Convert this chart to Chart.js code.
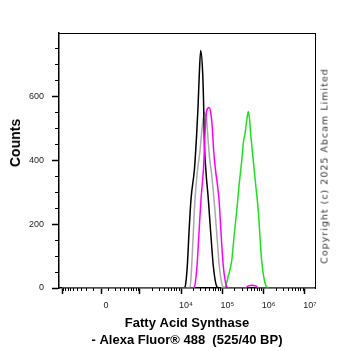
<!DOCTYPE html>
<html>
<head>
<meta charset="utf-8">
<script src="https://cdn.jsdelivr.net/npm/chart.js@4.4.1/dist/chart.umd.min.js"></script>
<style>
html,body{margin:0;padding:0;background:#fff;}
#wrap{position:relative;width:362px;height:351px;overflow:hidden;background:#fff;}
#wrap canvas{position:absolute;left:0;top:0;}
.vt{position:absolute;white-space:nowrap;transform:translate(-50%,-50%) rotate(-90deg);transform-origin:center center;line-height:1;}
#counts{left:15px;top:143px;font:bold 14px "Liberation Sans",Arial,sans-serif;color:#000;}
#copy{left:324px;top:166px;font:9.5px "DejaVu Sans",sans-serif;letter-spacing:1px;color:#333;}
</style>
</head>
<body>
<div id="wrap">
  <canvas id="c" width="362" height="351"></canvas>
  <div class="vt" id="counts">Counts</div>
  <div class="vt" id="copy">Copyright (c) 2025 Abcam Limited</div>
</div>
<script>
// ---- data (intensity on the x axis, event counts on the y axis) ----
const grayX    = [13970,16520,18150,19860,21830,25060,28840,32210,37070,41400,44990,48940,54700,62920,73070,84490,102100,116100];
const grayY    = [0,3,69,174,279,370,430,500,550,530,470,410,360,279,174,69,5,0];

const blackX   = [11170,12500,14200,15620,17460,21210,23990,25780,27730,29990,33500,35410,36640,39810,45780,52330,60510,73070,83000];
const blackY   = [0,3,69,174,279,375,485,566,672,745,672,566,462,372,279,174,69,5,0];

const magentaX = [-1000,18450,20990,24380,27270,30480,35000,36640,38730,41880,47610,52330,57150,61800,68390,83000,92890,105500,127600,144900,353700,417800,522400,653100,771400,17000000];
const magentaY = [0,0,3,69,174,279,375,430,504,556,566,551,504,430,370,279,174,69,5,0,0,6,9,6,0,0];

const greenX   = [92890,116100,140900,168600,191600,222700,253100,294300,325300,353700,384600,424600,454200,485800,522400,561500,645700,741300,814700,897500,1019000,1186000,1346000];
const greenY   = [0,3,40,85,160,242,320,399,460,483,520,554,530,483,440,399,320,242,160,85,30,3,0];

// ---- axes ----
const xMajorTicks  = [-1000, 0, 1000, 1e4, 1e5, 1e6, 1e7];
const xMajorLabels = ['', '0', '', '10\u2074', '10\u2075', '10\u2076', '10\u2077'];
const xMinorTicks = [];
for (let k = -900; k <= 900; k += 100) if (k !== 0) xMinorTicks.push(k);
for (let d = 1e3; d <= 1e6; d *= 10) for (let m = 2; m <= 9; m++) xMinorTicks.push(m * d);

const yMajorTicks = [0, 200, 400, 600];
const yMinorTicks = [50,100,150,250,300,350,450,500,550,650,700,750];

const xRange = [-1193, 17460000];
const yRange = [0, 800];

const xTitle = ['Fatty Acid Synthase', '- Alexa Fluor\u00AE 488  (525/40 BP)'];

// ---- biexponential-like scale ----
const LN10 = Math.log(10);
const W = 232;
const P0 = Math.log10(W / 2);
function biex(v) { return P0 + Math.asinh(v / W) / LN10; }
function biexInv(d) { return W * Math.sinh((d - P0) * LN10); }

const BaseLinear = Chart.LinearScale || (Chart.scales && Chart.scales.LinearScale);
class BiexScale extends BaseLinear {
  getPixelForValue(v) {
    const a = biex(this.min), b = biex(this.max);
    return this.getPixelForDecimal((biex(v) - a) / (b - a));
  }
  getValueForPixel(px) {
    const a = biex(this.min), b = biex(this.max);
    return biexInv(a + this.getDecimalForPixel(px) * (b - a));
  }
}
BiexScale.id = 'biex';
BiexScale.defaults = {};
Chart.register(BiexScale);

const pts = (xs, ys) => xs.map((x, i) => ({x: x, y: ys[i]}));
const tickFont = {family: '"Liberation Sans", Arial, sans-serif', size: 9};

new Chart(document.getElementById('c'), {
  type: 'line',
  data: {
    datasets: [
      {label: 'magenta', data: pts(magentaX, magentaY), borderColor: '#ff00ff', clip: 0},
      {label: 'green',   data: pts(greenX, greenY),     borderColor: '#1ee01e'},
      {label: 'black',   data: pts(blackX, blackY),     borderColor: '#000000'},
      {label: 'gray',    data: pts(grayX, grayY),       borderColor: '#a9a9a9'}
    ].map(d => Object.assign({
      borderWidth: 1.5, pointRadius: 0, fill: false,
      cubicInterpolationMode: 'monotone', xAxisID: 'x', yAxisID: 'y'
    }, d))
  },
  options: {
    responsive: false,
    devicePixelRatio: 1,
    animation: false,
    events: [],
    layout: {padding: {top: 33, right: 47, bottom: 0, left: 0}},
    plugins: {legend: {display: false}, tooltip: {enabled: false}},
    scales: {
      x: {
        type: 'biex', position: 'bottom', min: xRange[0], max: xRange[1], bounds: 'data', weight: 0,
        afterBuildTicks: s => { s.ticks = xMajorTicks.map(v => ({value: v})); },
        afterFit: s => { s.height = 63; },
        ticks: {autoSkip: false, maxRotation: 0, font: tickFont, color: '#222', padding: 6, labelOffset: 5,
                callback: (v, i) => xMajorLabels[i]},
        grid: {drawOnChartArea: false, tickLength: 6, tickWidth: 1.5, tickColor: '#000'},
        border: {color: '#000', width: 1.5},
        title: {display: true, text: xTitle, color: '#000',
                font: {family: '"Liberation Sans", Arial, sans-serif', size: 13, weight: 'bold', lineHeight: 1.3},
                padding: {top: 0, bottom: 2}}
      },
      xMinor: {
        type: 'biex', position: 'bottom', min: xRange[0], max: xRange[1], bounds: 'data', weight: -1,
        afterBuildTicks: s => { s.ticks = xMinorTicks.map(v => ({value: v})); },
        afterFit: s => { s.height = 0; },
        ticks: {display: false, autoSkip: false},
        grid: {drawOnChartArea: false, tickLength: 3, tickWidth: 1, tickColor: '#000'},
        border: {display: false}
      },
      xTop: {
        type: 'linear', position: 'top', min: 0, max: 1,
        afterFit: s => { s.height = 0; },
        ticks: {display: false},
        grid: {drawOnChartArea: false, drawTicks: false},
        border: {color: '#000', width: 1}
      },
      y: {
        type: 'linear', position: 'left', min: yRange[0], max: yRange[1], weight: 0,
        afterBuildTicks: s => { s.ticks = yMajorTicks.map(v => ({value: v})); },
        afterFit: s => { s.width = 59; },
        ticks: {font: tickFont, color: '#222', padding: 8, callback: v => String(v)},
        grid: {drawOnChartArea: false, tickLength: 7, tickWidth: 1.5, tickColor: '#000'},
        border: {color: '#000', width: 1.5}
      },
      yMinor: {
        type: 'linear', position: 'left', min: yRange[0], max: yRange[1], weight: -1,
        afterBuildTicks: s => { s.ticks = yMinorTicks.map(v => ({value: v})); },
        afterFit: s => { s.width = 0; },
        ticks: {display: false},
        grid: {drawOnChartArea: false, tickLength: 4, tickWidth: 1, tickColor: '#000'},
        border: {display: false}
      },
      yRight: {
        type: 'linear', position: 'right', min: 0, max: 1,
        afterFit: s => { s.width = 0; },
        ticks: {display: false},
        grid: {drawOnChartArea: false, drawTicks: false},
        border: {color: '#000', width: 1}
      }
    }
  }
});
</script>
</body>
</html>
